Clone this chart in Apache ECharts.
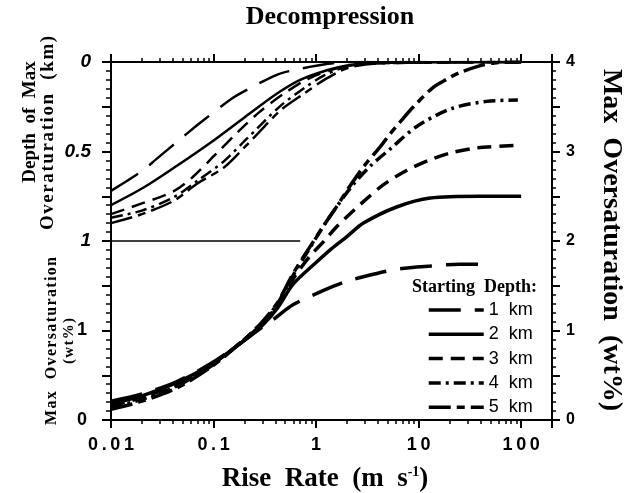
<!DOCTYPE html>
<html>
<head>
<meta charset="utf-8">
<script src="https://cdn.jsdelivr.net/npm/echarts@6/dist/echarts.min.js"></script>
<style>
  html, body { margin: 0; padding: 0; background: #fff; }
  #chart { width: 639px; height: 493px; }
</style>
</head>
<body>
<div id="chart"></div>
<script>
// starting depths (legend)
const depthNames = ["1 km", "2 km", "3 km", "4 km", "5 km"];

// depth of max oversaturation (km) vs rise rate (m/s)
const depthRate1 = [0.01, 0.02, 0.028, 0.055, 0.078, 0.15, 0.22, 0.42, 0.61, 1.3, 2, 100];
const depthKm1 = [0.72, 0.61, 0.54, 0.40, 0.33, 0.205, 0.15, 0.07, 0.045, 0.01, 0, 0];
const depthRate2 = [0.01, 0.021, 0.044, 0.094, 0.2, 0.42, 0.7, 1.3, 2, 3.5, 100];
const depthKm2 = [0.80, 0.70, 0.58, 0.45, 0.31, 0.175, 0.10, 0.045, 0.02, 0.005, 0];
const depthRate3 = [0.01, 0.02, 0.04, 0.062, 0.105, 0.177, 0.28, 0.49, 0.83, 1.5, 3, 100];
const depthKm3 = [0.85, 0.79, 0.725, 0.645, 0.515, 0.385, 0.28, 0.175, 0.095, 0.04, 0.01, 0];
const depthRate4 = [0.01, 0.02, 0.041, 0.069, 0.126, 0.21, 0.45, 0.77, 1.2, 2, 4, 100];
const depthKm4 = [0.87, 0.83, 0.755, 0.665, 0.555, 0.43, 0.245, 0.145, 0.075, 0.025, 0.005, 0];
const depthRate5 = [0.01, 0.02, 0.041, 0.069, 0.126, 0.214, 0.27, 0.45, 0.77, 1.2, 2, 4, 100];
const depthKm5 = [0.90, 0.85, 0.775, 0.68, 0.59, 0.46, 0.40, 0.27, 0.175, 0.10, 0.035, 0.008, 0];

// max oversaturation (wt%) vs rise rate (m/s)
const satRate1 = [0.01, 0.02, 0.044, 0.094, 0.2, 0.3, 0.4, 0.6, 1.2, 2, 4, 6.5, 13, 25, 50];
const satWt1 = [0.21, 0.29, 0.43, 0.63, 0.89, 1.04, 1.14, 1.29, 1.45, 1.55, 1.64, 1.69, 1.72, 1.74, 1.74];
const satRate2 = [0.01, 0.02, 0.044, 0.094, 0.2, 0.3, 0.42, 0.6, 1, 1.4, 2, 2.9, 6.1, 13, 40, 100];
const satWt2 = [0.18, 0.27, 0.42, 0.62, 0.89, 1.06, 1.25, 1.52, 1.76, 1.91, 2.05, 2.2, 2.38, 2.48, 2.5, 2.5];
const satRate3 = [0.01, 0.02, 0.044, 0.094, 0.2, 0.3, 0.42, 0.6, 0.87, 1.2, 1.53, 2, 2.77, 4.55, 7.7, 12.4, 20, 37, 100];
const satWt3 = [0.16, 0.25, 0.40, 0.61, 0.90, 1.08, 1.28, 1.58, 1.83, 2.0, 2.14, 2.27, 2.42, 2.63, 2.79, 2.9, 2.98, 3.04, 3.07];
const satRate4 = [0.01, 0.02, 0.044, 0.094, 0.2, 0.3, 0.42, 0.6, 0.9, 1.2, 1.58, 2.3, 3.4, 5.3, 9.6, 21, 46, 93];
const satWt4 = [0.14, 0.23, 0.38, 0.60, 0.90, 1.09, 1.30, 1.62, 1.95, 2.18, 2.38, 2.63, 2.84, 3.03, 3.28, 3.48, 3.56, 3.575];
const satRate5 = [0.01, 0.02, 0.044, 0.094, 0.2, 0.3, 0.42, 0.6, 0.9, 1.2, 1.6, 2.1, 3, 4.2, 5.3, 6.6, 8.9, 14, 19, 25, 40, 55, 100];
const satWt5 = [0.12, 0.21, 0.36, 0.59, 0.90, 1.10, 1.31, 1.64, 1.96, 2.18, 2.39, 2.6, 2.85, 3.05, 3.2, 3.33, 3.5, 3.72, 3.81, 3.88, 3.96, 3.99, 4.0];

// separator between the two left scales
const sepRate = [0.01, 0.7];
const sepWt = [2, 2];

const depthRates = [depthRate1, depthRate2, depthRate3, depthRate4, depthRate5];
const depthVals = [depthKm1, depthKm2, depthKm3, depthKm4, depthKm5];
const satRates = [satRate1, satRate2, satRate3, satRate4, satRate5];
const satVals = [satWt1, satWt2, satWt3, satWt4, satWt5];

const dashes = [[32, 14], "solid", [14, 8], [12, 5, 3, 5], [22, 6, 8, 6]];

const serif = '"Liberation Serif", "Times New Roman", serif';
const sans = '"Liberation Sans", Arial, Helvetica, sans-serif';

const zip = (xs, ys) => xs.map((x, i) => [x, ys[i]]);
const spread = s => s.split("").join("\u200A");

function rateLabel(v) {
  const l = Math.log10(v);
  if (Math.abs(l - Math.round(l)) > 1e-6 || v > 100.5) return "";
  const s = v >= 1 ? String(Math.round(v)) : v.toFixed(-Math.round(l));
  return s.split("").join("\u2009");
}

const xBase = {
  type: "log",
  logBase: 10,
  min: 0.01,
  max: 200,
  axisLine: { lineStyle: { color: "#000", width: 2 } },
  axisTick: { length: 8, lineStyle: { color: "#000", width: 2 } },
  minorTick: { show: true, splitNumber: 9, length: 4, lineStyle: { color: "#000", width: 1.5 } },
  splitLine: { show: false },
  minorSplitLine: { show: false }
};

const series = [];
for (let i = 0; i < 5; i++) {
  series.push({
    name: depthNames[i],
    type: "line",
    xAxisIndex: 0,
    yAxisIndex: 0,
    data: zip(satRates[i], satVals[i]),
    smooth: 0.3,
    symbol: "none",
    lineStyle: { color: "#000", width: 3.5, type: dashes[i] },
    itemStyle: { color: "#000" }
  });
}
for (let i = 0; i < 5; i++) {
  series.push({
    name: depthNames[i],
    type: "line",
    xAxisIndex: 0,
    yAxisIndex: 1,
    data: zip(depthRates[i], depthVals[i]),
    smooth: 0.3,
    symbol: "none",
    lineStyle: { color: "#000", width: 2.5, type: dashes[i] },
    itemStyle: { color: "#000" }
  });
}
series.push({
  name: "sep",
  type: "line",
  xAxisIndex: 0,
  yAxisIndex: 0,
  data: zip(sepRate, sepWt),
  symbol: "none",
  lineStyle: { color: "#000", width: 1.5 }
});

const option = {
  animation: false,
  backgroundColor: "#fff",
  grid: { left: 111, right: 87, top: 62, bottom: 73 },
  xAxis: [
    Object.assign({}, xBase, {
      position: "bottom",
      axisLabel: {
        margin: 16,
        color: "#000",
        fontFamily: sans,
        fontWeight: "bold",
        fontSize: 18,
        formatter: rateLabel
      }
    }),
    Object.assign({}, xBase, { position: "top", axisLabel: { show: false } })
  ],
  yAxis: [
    {
      // right: max oversaturation
      type: "value",
      position: "right",
      min: 0,
      max: 4,
      interval: 0.5,
      axisLine: { show: true, lineStyle: { color: "#000", width: 2 } },
      axisTick: { length: 8, lineStyle: { color: "#000", width: 2 } },
      minorTick: { show: true, splitNumber: 5, length: 4, lineStyle: { color: "#000", width: 1.5 } },
      splitLine: { show: false },
      axisLabel: {
        margin: 14,
        color: "#000",
        fontFamily: sans,
        fontWeight: "bold",
        fontSize: 16,
        formatter: v => (Number.isInteger(v) ? String(v) : "")
      }
    },
    {
      // left top: depth of max oversaturation
      type: "value",
      position: "left",
      inverse: true,
      min: 0,
      max: 2,
      interval: 0.25,
      axisLine: { show: true, lineStyle: { color: "#000", width: 2 } },
      axisTick: { length: 9, lineStyle: { color: "#000", width: 2 } },
      minorTick: { show: true, splitNumber: 5, length: 5, lineStyle: { color: "#000", width: 1.5 } },
      splitLine: { show: false },
      axisLabel: {
        margin: 20,
        color: "#000",
        fontFamily: sans,
        fontWeight: "bold",
        fontStyle: "italic",
        fontSize: 19,
        formatter: v => (v === 0 || v === 0.5 || v === 1 ? String(v) : "")
      }
    },
    {
      // left bottom: max oversaturation
      type: "value",
      position: "left",
      min: 0,
      max: 4,
      interval: 1,
      axisLine: { show: false },
      axisTick: { show: false },
      splitLine: { show: false },
      axisLabel: {
        margin: 24,
        color: "#000",
        fontFamily: sans,
        fontWeight: "bold",
        fontSize: 18,
        formatter: v => (v <= 1 ? String(v) : "")
      }
    }
  ],
  legend: {
    data: depthNames,
    orient: "vertical",
    left: 427,
    top: 301,
    padding: 0,
    align: "left",
    itemWidth: 55,
    itemHeight: 14,
    itemGap: 6.3,
    selectedMode: false,
    itemStyle: { color: "rgba(0,0,0,0)", borderWidth: 0, opacity: 0 },
    lineStyle: { width: 3.5 },
    textStyle: { color: "#000", fontFamily: sans, fontSize: 18 },
    formatter: n => n.replace(" ", "  ")
  },
  graphic: [
    {
      type: "text",
      x: 330, y: 17,
      style: { text: "Decompression", font: "bold 26px " + serif, fill: "#000", textAlign: "center", textVerticalAlign: "middle" }
    },
    {
      type: "text",
      x: 325, y: 479,
      style: {
        text: "{a|Rise  Rate  (m  s}{s|-1}{a|)}",
        textAlign: "center",
        textVerticalAlign: "middle",
        rich: {
          a: { font: "bold 27px " + serif, fill: "#000" },
          s: { font: "bold 14px " + serif, fill: "#000", verticalAlign: "top", padding: [0, 0, 11, 0] }
        }
      }
    },
    {
      type: "text",
      x: 611, y: 240,
      rotation: -Math.PI / 2,
      style: { text: "Max  Oversaturation  (wt%)", font: "bold 28px " + serif, fill: "#000", textAlign: "center", textVerticalAlign: "middle" }
    },
    {
      type: "text",
      x: 30, y: 122,
      rotation: Math.PI / 2,
      style: { text: "Depth  of  Max", font: "bold 19px " + serif, fill: "#000", textAlign: "center", textVerticalAlign: "middle" }
    },
    {
      type: "text",
      x: 48, y: 133,
      rotation: Math.PI / 2,
      style: { text: spread("Overaturation  (km)"), font: "bold 19px " + serif, fill: "#000", textAlign: "center", textVerticalAlign: "middle" }
    },
    {
      type: "text",
      x: 52, y: 341,
      rotation: Math.PI / 2,
      style: { text: spread("Max  Oversaturation"), font: "bold 16px " + serif, fill: "#000", textAlign: "center", textVerticalAlign: "middle" }
    },
    {
      type: "text",
      x: 69, y: 341,
      rotation: Math.PI / 2,
      style: { text: spread("(wt%)"), font: "bold 15px " + serif, fill: "#000", textAlign: "center", textVerticalAlign: "middle" }
    },
    {
      type: "text",
      x: 537, y: 287,
      style: { text: "Starting  Depth:", font: "bold 18px " + serif, fill: "#000", textAlign: "right", textVerticalAlign: "middle" }
    }
  ],
  series: series
};

const chart = echarts.init(document.getElementById("chart"), null, { renderer: "canvas" });
chart.setOption(option);
</script>
</body>
</html>
